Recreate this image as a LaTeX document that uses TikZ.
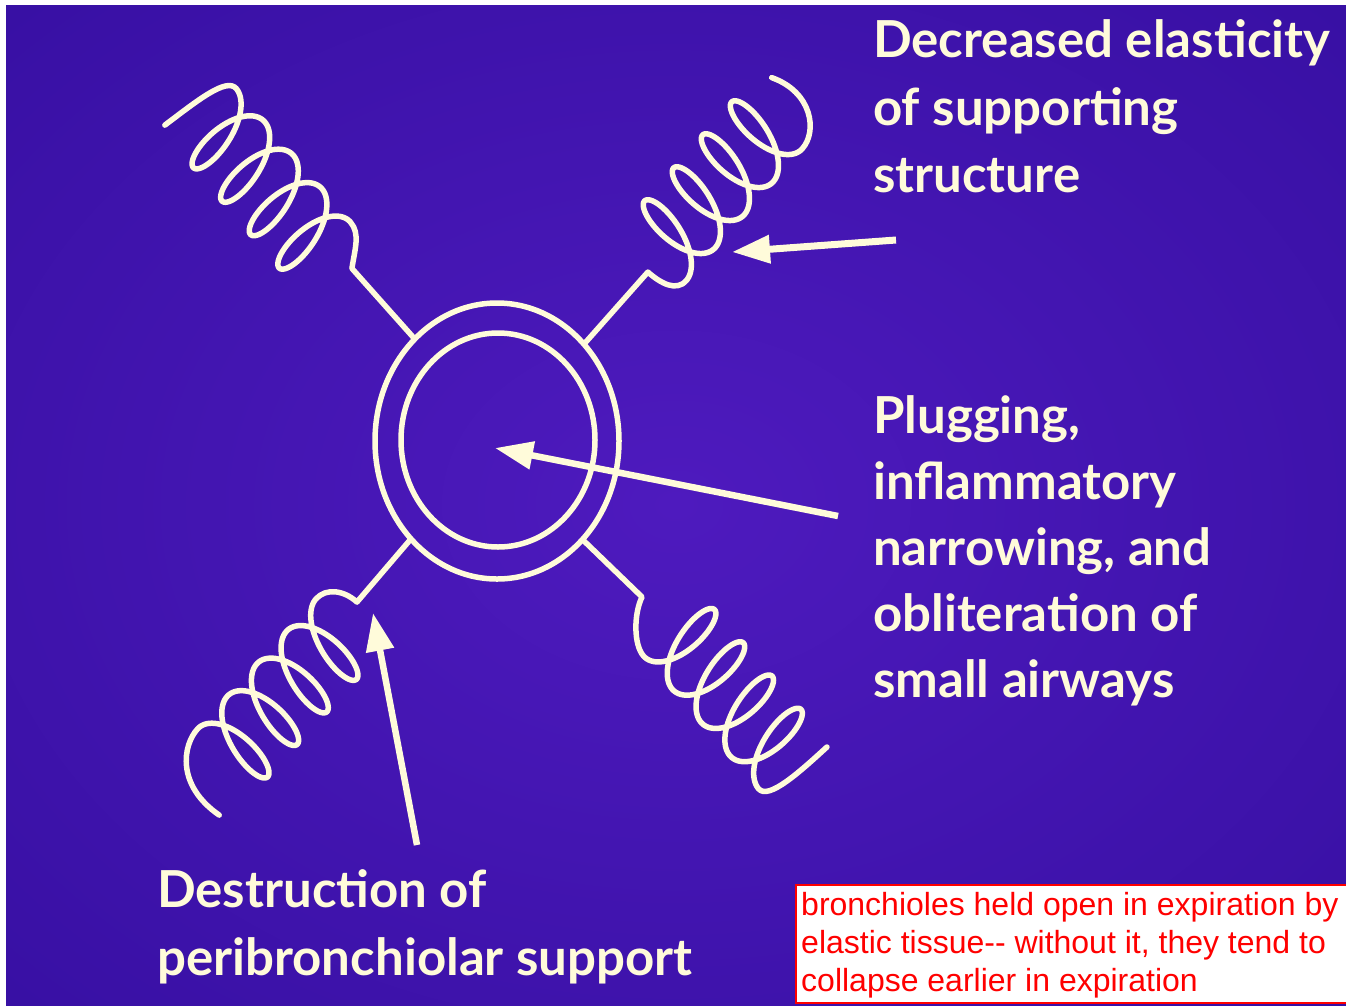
\documentclass[tikz,border=0pt]{standalone}
\usepackage{fontspec}
\setmainfont{Liberation Sans}
\newfontfamily\slidefont{Lato}
\usetikzlibrary{arrows.meta}
\definecolor{chalk}{RGB}{255,251,218}
\definecolor{bgin}{RGB}{78,26,190}
\definecolor{bgmid}{RGB}{56,16,164}
\definecolor{bgout}{RGB}{24,8,110}
\definecolor{notered}{RGB}{255,0,0}
\pgfdeclareradialshading{slidebg}{\pgfpointorigin}{color(0bp)=(bgin); color(35bp)=(bgmid); color(75bp)=(bgout)}
\tikzset{
  wire/.style={draw=chalk, line width=5.5pt, line cap=round, line join=round},
  pointer/.style={draw=chalk, line width=6.5pt, -{Triangle[length=38pt,width=27pt]}},
  slidetext/.style={text=chalk, font=\slidefont\bfseries\fontsize{51}{60}\selectfont, anchor=base west, inner sep=0pt},
  notetext/.style={text=notered, font=\fontsize{32}{38}\selectfont, anchor=base west, inner sep=0pt}
}
\begin{document}
\begin{tikzpicture}[x=1pt,y=-1pt]
\useasboundingbox (0,0) rectangle (1346,1005);
\fill[white] (0,0) rectangle (1346,1005);
\shade[shading=slidebg] (6,5) rectangle (1346,1005);

% bronchiole walls
\draw[wire] (497,441) ellipse [x radius=122, y radius=138];
\draw[wire] (498,440) ellipse [x radius=97, y radius=107];

% junctions on the outer wall
\coordinate (j1) at (413,337);
\coordinate (j2) at (585,343);
\coordinate (j3) at (410,540);
\coordinate (j4) at (583,540);

% spring 1 (upper left)
\begin{scope}[shift={(307.6,236.6)}, x={(-0.65pt,0.76pt)}, y={(0.76pt,0.65pt)}]
\draw[wire] (j1) -- (-53,13) .. controls (-40,28) and (-32,42) .. (-17,42)
  -- plot[domain=-pi:7*pi, samples=400, smooth, variable=\t] ({7*\t - 19.5*sin(\t r) + 0.12*(-42*cos(\t r))}, {-42*cos(\t r)})
  .. controls (174,42) and (175,4) .. (177.5,-36);
\end{scope}

% spring 2 (upper right)
\begin{scope}[shift={(672.6,232.6)}, x={(0.66pt,0.75pt)}, y={(0.75pt,-0.66pt)}]
\draw[wire] (j2) -- (-46,7.5) .. controls (-46,25) and (-42,42) .. (-27,42)
  -- plot[domain=-pi:7*pi, samples=400, smooth, variable=\t] ({7*\t - 19.5*sin(\t r) - 0.12*(-42*cos(\t r))}, {-42*cos(\t r)})
  .. controls (172,42) and (198,12) .. (182,-28);
\end{scope}

% spring 3 (lower left)
\begin{scope}[shift={(329,647)}, x={(-0.674pt,-0.74pt)}, y={(-0.74pt,0.674pt)}]
\draw[wire] (j3) -- (-52,9.6) .. controls (-52,27) and (-42,42) .. (-27,42)
  -- plot[domain=-pi:7*pi, samples=400, smooth, variable=\t] ({7*\t - 19.5*sin(\t r) - 0.12*(-42*cos(\t r))}, {-42*cos(\t r)})
  .. controls (171,42) and (205,20) .. (198,-32);
\end{scope}

% spring 4 (lower right)
\begin{scope}[shift={(686.3,641.2)}, x={(0.655pt,-0.756pt)}, y={(-0.756pt,-0.655pt)}]
\draw[wire] (j4) -- (-62.4,4.5) .. controls (-55,22) and (-32,42) .. (-17,42)
  -- plot[domain=-pi:7*pi, samples=400, smooth, variable=\t] ({7*\t - 19.5*sin(\t r) + 0.12*(-42*cos(\t r))}, {-42*cos(\t r)})
  .. controls (174,42) and (173,0) .. (172,-37);
\end{scope}

% labels
\node[slidetext] (dec1) at (873,57) {Decreased elasticity};
\node[slidetext] (dec2) at (873,125) {of supporting};
\node[slidetext] (dec3) at (873,192) {structure};
\node[slidetext] (plug1) at (873,433) {Plugging,};
\node[slidetext] (plug2) at (873,499) {inflammatory};
\node[slidetext] (plug3) at (873,565) {narrowing, and};
\node[slidetext] (plug4) at (873,631) {obliteration of};
\node[slidetext] (plug5) at (873,697) {small airways};
\node[slidetext] (des1) at (157,907) {Destruction of};
\node[slidetext] (des2) at (157,975) {peribronchiolar support};

% arrows
\coordinate (a1s) at (838,516);
\coordinate (a1e) at (495,448);
\coordinate (a2s) at (896,240);
\coordinate (a2e) at (732,252);
\coordinate (a3s) at (417,845);
\coordinate (a3e) at (373,613);
\draw[pointer] (a1s) -- (a1e);
\draw[pointer, line width=7pt] (a2s) -- (a2e);
\draw[pointer] (a3s) -- (a3e);

% note box
\draw[draw=notered, line width=2pt, fill=white] (796,885) rectangle (1350,1003);
\node[notetext] (n1) at (801,915) {bronchioles held open in expiration by};
\node[notetext] (n2) at (801,953) {elastic tissue-{}- without it, they tend to};
\node[notetext] (n3) at (801,991) {collapse earlier in expiration};
\end{tikzpicture}
\end{document}
